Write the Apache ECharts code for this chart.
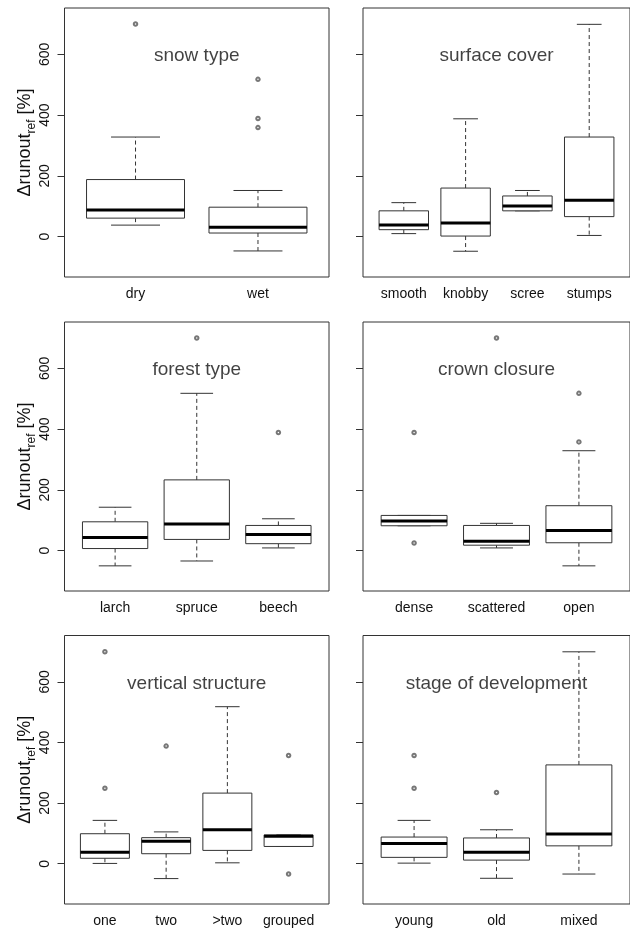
<!DOCTYPE html>
<html><head><meta charset="utf-8">
<script src="https://cdn.jsdelivr.net/npm/echarts@6/dist/echarts.min.js"></script>
<style>html,body{margin:0;padding:0;background:#fff}#c{width:630px;height:928px}</style>
</head><body><div id="c"></div>
<script>
// ---------------- data (stats: [lower whisker, Q1, median, Q3, upper whisker]) ----------------
const snowCats = ['dry', 'wet'];
const snowStats = [[38, 61, 88, 188, 328], [-47, 12, 31, 97, 152]];
const snowOutliers = [[0, 700], [1, 518], [1, 389], [1, 359]];

const surfaceCats = ['smooth', 'knobby', 'scree', 'stumps'];
const surfaceStats = [[10, 23, 38, 85, 112], [-48, 2, 45, 160, 388], [85, 85, 101, 134, 152], [4, 66, 120, 328, 699]];
const surfaceOutliers = [];

const forestCats = ['larch', 'spruce', 'beech'];
const forestStats = [[-50, 7, 43, 95, 143], [-34, 37, 88, 233, 518], [9, 23, 53, 83, 105]];
const forestOutliers = [[1, 700], [2, 389]];

const crownCats = ['dense', 'scattered', 'open'];
const crownStats = [[82, 82, 98, 116, 116], [9, 18, 31, 83, 90], [-50, 26, 66, 148, 329]];
const crownOutliers = [[0, 389], [0, 25], [1, 700], [2, 518], [2, 358]];

const verticalCats = ['one', 'two', '>two', 'grouped'];
const verticalStats = [[1, 18, 38, 99, 143], [-49, 33, 74, 86, 105], [3, 44, 112, 233, 518], [57, 57, 91, 95, 95]];
const verticalOutliers = [[0, 699], [0, 249], [1, 388], [3, 357], [3, -34]];

const stageCats = ['young', 'old', 'mixed'];
const stageStats = [[2, 21, 67, 88, 143], [-48, 12, 38, 85, 112], [-34, 59, 98, 326, 699]];
const stageOutliers = [[0, 357], [0, 249], [1, 235]];

const panelTitles = ['snow type', 'surface cover', 'forest type', 'crown closure', 'vertical structure', 'stage of development'];
const yTicks = [0, 200, 400, 600];
const yLimits = [-100, 720];
const titleValue = 600;

// ---------------- layout / style ----------------
const FONT = '"Liberation Sans", Arial, sans-serif';
const LINE = '#333';
const colLeft = [64.5, 363], colWidth = [264.5, 270];
const rowTop = [8, 322, 635.5], rowHeight = 269;
const BOX_W = 0.8, STAPLE = 0.5;

const panels = [
  [snowCats, snowStats, snowOutliers],
  [surfaceCats, surfaceStats, surfaceOutliers],
  [forestCats, forestStats, forestOutliers],
  [crownCats, crownStats, crownOutliers],
  [verticalCats, verticalStats, verticalOutliers],
  [stageCats, stageStats, stageOutliers]
];

const yExt = (yLimits[1] - yLimits[0]) * 0.04;
const yMin = yLimits[0] - yExt, yMax = yLimits[1] + yExt;

function renderBox(params, api) {
  const x = api.value(0);
  const lo = api.coord([x, api.value(1)]);
  const q1 = api.coord([x, api.value(2)]);
  const md = api.coord([x, api.value(3)]);
  const q3 = api.coord([x, api.value(4)]);
  const hi = api.coord([x, api.value(5)]);
  const half = api.size([BOX_W, 0])[0] / 2;
  const cap = half * STAPLE;
  const cx = md[0];
  const thin = { stroke: LINE, lineWidth: 1, fill: null };
  const dash = { stroke: LINE, lineWidth: 1, lineDash: [4, 3] };
  const ch = [];
  if (hi[1] < q3[1] - 0.5) {
    ch.push({ type: 'line', shape: { x1: cx, y1: q3[1], x2: cx, y2: hi[1] }, style: dash });
  }
  if (lo[1] > q1[1] + 0.5) {
    ch.push({ type: 'line', shape: { x1: cx, y1: q1[1], x2: cx, y2: lo[1] }, style: dash });
  }
  ch.push({ type: 'line', shape: { x1: cx - cap, y1: hi[1], x2: cx + cap, y2: hi[1] }, style: thin });
  ch.push({ type: 'line', shape: { x1: cx - cap, y1: lo[1], x2: cx + cap, y2: lo[1] }, style: thin });
  ch.push({ type: 'rect', shape: { x: cx - half, y: q3[1], width: 2 * half, height: q1[1] - q3[1] }, style: { stroke: LINE, lineWidth: 1, fill: '#fff' } });
  ch.push({ type: 'line', shape: { x1: cx - half, y1: md[1], x2: cx + half, y2: md[1] }, style: { stroke: '#000', lineWidth: 3 } });
  return { type: 'group', children: ch };
}

const grid = [], xAxis = [], yAxis = [], series = [];
panels.forEach(function (p, i) {
  const cats = p[0], stats = p[1], outs = p[2];
  const n = cats.length;
  const col = i % 2, row = Math.floor(i / 2);
  grid.push({ left: colLeft[col], top: rowTop[row], width: colWidth[col], height: rowHeight,
    show: true, borderColor: LINE, borderWidth: 1, backgroundColor: 'transparent', containLabel: false });
  const xExt = n * 0.04;
  xAxis.push({ type: 'value', gridIndex: i, min: 0.5 - xExt, max: n + 0.5 + xExt,
    axisLine: { show: false }, splitLine: { show: false },
    axisTick: { show: false },
    axisLabel: { customValues: cats.map(function (c, k) { return k + 1; }),
      formatter: function (v) { return cats[Math.round(v) - 1] || ''; },
      fontFamily: FONT, fontSize: 14, color: '#111', margin: 10 } });
  const ya = { type: 'value', gridIndex: i, min: yMin, max: yMax,
    axisLine: { show: false }, splitLine: { show: false },
    axisTick: { show: true, inside: false, length: 7, customValues: yTicks, lineStyle: { color: LINE, width: 1 } },
    axisLabel: { show: col === 0, customValues: yTicks, rotate: 90, margin: 12,
      fontFamily: FONT, fontSize: 14, color: '#111' } };
  if (col === 0) {
    ya.name = '{a|\u0394runout}{b|ref}{a| [%]}';
    ya.nameLocation = 'middle';
    ya.nameRotate = 90;
    ya.nameGap = 30;
    ya.nameTextStyle = { fontFamily: FONT, color: '#111',
      rich: { a: { fontFamily: FONT, fontSize: 18, lineHeight: 18, verticalAlign: 'top', color: '#111' },
              b: { fontFamily: FONT, fontSize: 12, lineHeight: 12, padding: [9, 0, 0, 0], verticalAlign: 'top', color: '#111' } } };
  }
  yAxis.push(ya);
  series.push({ type: 'custom', xAxisIndex: i, yAxisIndex: i, renderItem: renderBox,
    encode: { x: 0, y: [1, 2, 3, 4, 5] },
    data: stats.map(function (s, k) { return [k + 1].concat(s); }), silent: true });
  series.push({ type: 'scatter', xAxisIndex: i, yAxisIndex: i, symbol: 'emptyCircle', symbolSize: 3.5,
    itemStyle: { color: '#555', borderWidth: 0.9 },
    data: outs.map(function (o) { return [o[0] + 1, o[1]]; }), silent: true });
  series.push({ type: 'scatter', xAxisIndex: i, yAxisIndex: i, symbolSize: 1,
    itemStyle: { color: 'rgba(0,0,0,0)' },
    label: { show: true, position: 'inside', formatter: panelTitles[i], fontFamily: FONT, fontSize: 19, color: '#111', offset: [0, 1.5] },
    data: [[(n + 1) / 2, titleValue]], silent: true });
});

const chart = echarts.init(document.getElementById('c'), null, { renderer: 'canvas' });
chart.setOption({ backgroundColor: '#fff', animation: false, grid: grid, xAxis: xAxis, yAxis: yAxis, series: series });
</script></body></html>
